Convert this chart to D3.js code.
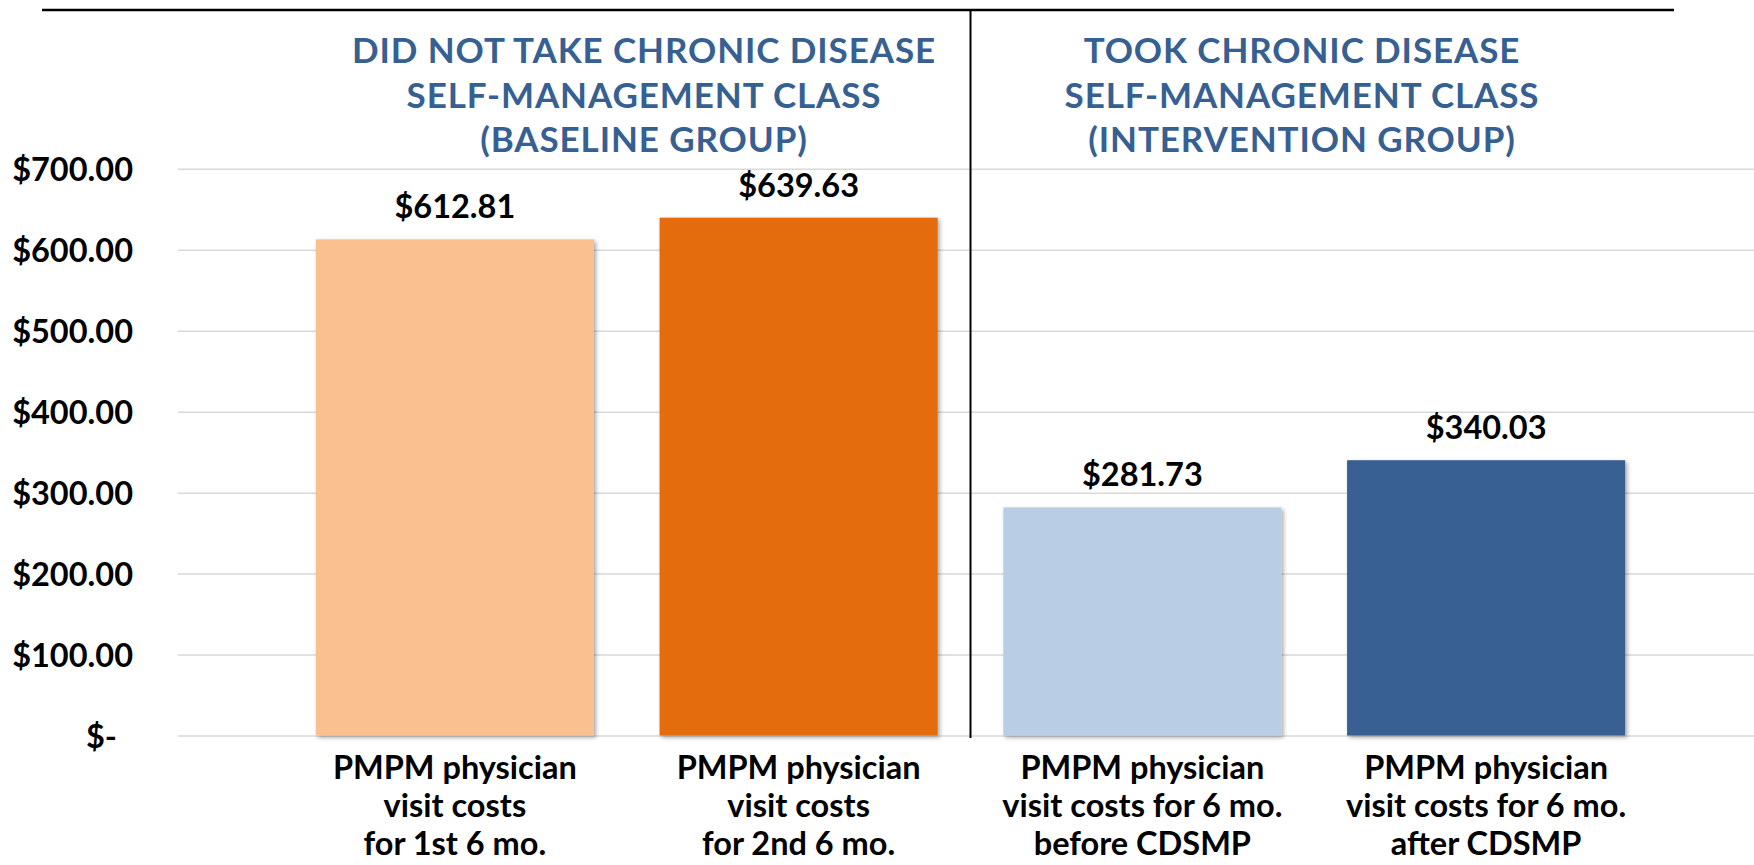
<!DOCTYPE html>
<html><head><meta charset="utf-8">
<script src="https://cdn.jsdelivr.net/npm/d3@7"></script>
<style>
body{margin:0;background:#fff;}
svg{display:block;font-family:Lato,"Open Sans",sans-serif;font-weight:700;}
</style>
</head><body>
<svg id="chart" width="1754" height="865"></svg>
<script>
// ---- data ----
const categories = ["base1", "base2", "int1", "int2"];
const categoryLabels = [
  ["PMPM physician", "visit costs", "for 1st 6 mo."],
  ["PMPM physician", "visit costs", "for 2nd 6 mo."],
  ["PMPM physician", "visit costs for 6 mo.", "before CDSMP"],
  ["PMPM physician", "visit costs for 6 mo.", "after CDSMP"]
];
const values = [612.81, 639.63, 281.73, 340.03];
const valueLabels = ["$612.81", "$639.63", "$281.73", "$340.03"];
const barColors = ["#FAC090", "#E46C0A", "#B9CDE5", "#376092"];
const yTicks = [0, 100, 200, 300, 400, 500, 600, 700];
const groupTitleLeft = ["DID NOT TAKE CHRONIC DISEASE", "SELF-MANAGEMENT CLASS", "(BASELINE GROUP)"];
const groupTitleRight = ["TOOK CHRONIC DISEASE", "SELF-MANAGEMENT CLASS", "(INTERVENTION GROUP)"];

// ---- layout ----
const svg = d3.select("#chart");
const W = 1754, H = 865;

const defs = svg.append("defs");
const f = defs.append("filter").attr("id", "shadow").attr("x", "-5%").attr("y", "-5%").attr("width", "115%").attr("height", "115%");
f.append("feDropShadow").attr("dx", 2).attr("dy", 2).attr("stdDeviation", 2)
  .attr("flood-color", "#000").attr("flood-opacity", 0.35);

const x = d3.scaleBand().domain(categories).range([283, 1658])
  .paddingInner(0.191).paddingOuter(0.0955);
const y = d3.scaleLinear().domain([0, 700]).range([735.5, 168.8]);

// gridlines + y tick labels via axis
const axis = d3.axisLeft(y).tickValues(yTicks)
  .tickSizeInner(-(W - 178)).tickSizeOuter(0).tickPadding(45)
  .tickFormat(d => d === 0 ? "$-" : "$" + d3.format(",.2f")(d));
const gAxis = svg.append("g").attr("transform", "translate(178,0)").call(axis);
gAxis.select(".domain").remove();
gAxis.selectAll(".tick line").attr("stroke", "#D9D9D9").attr("stroke-width", 1.5);
gAxis.selectAll(".tick text")
  .attr("fill", "#000").attr("font-size", 32.5).attr("font-weight", 700)
  .attr("font-family", "Lato, 'Open Sans', sans-serif")
  .attr("dy", "0.36em")
  .attr("dx", d => d === 0 ? -16 : 0);

// bars
svg.append("g").selectAll("rect").data(values).join("rect")
  .attr("x", (d, i) => x(categories[i]))
  .attr("y", d => y(d))
  .attr("width", x.bandwidth())
  .attr("height", d => y(0) - y(d))
  .attr("fill", (d, i) => barColors[i])
  .attr("filter", "url(#shadow)");

// value labels
svg.append("g").selectAll("text").data(values).join("text")
  .attr("x", (d, i) => x(categories[i]) + x.bandwidth() / 2)
  .attr("y", d => y(d) - 21)
  .attr("text-anchor", "middle")
  .attr("font-size", 32.5)
  .attr("fill", "#000")
  .text((d, i) => valueLabels[i]);

// category labels
const cl = svg.append("g").selectAll("text").data(categoryLabels).join("text")
  .attr("text-anchor", "middle")
  .attr("font-size", 32.5)
  .attr("fill", "#000");
cl.each(function(lines, i) {
  const cx = x(categories[i]) + x.bandwidth() / 2;
  d3.select(this).selectAll("tspan").data(lines).join("tspan")
    .attr("x", cx)
    .attr("y", (l, j) => 779 + j * 38)
    .text(l => l);
});

// divider between groups
const divX = x(categories[2]) - x.step() * x.paddingInner() / 2;
svg.append("line").attr("x1", divX).attr("x2", divX).attr("y1", 10).attr("y2", 738)
  .attr("stroke", "#000").attr("stroke-width", 2);

// top rule
svg.append("line").attr("x1", 42).attr("x2", 1674).attr("y1", 10).attr("y2", 10)
  .attr("stroke", "#000").attr("stroke-width", 2.5);

// group titles
function title(lines, cx) {
  svg.append("text").attr("text-anchor", "middle").attr("font-size", 35)
    .attr("fill", "#376092").attr("letter-spacing", 0.9)
    .selectAll("tspan").data(lines).join("tspan")
    .attr("x", cx).attr("y", (l, j) => 63 + j * 44.5).text(l => l);
}
title(groupTitleLeft, 644);
title(groupTitleRight, 1302);
</script>
</body></html>
